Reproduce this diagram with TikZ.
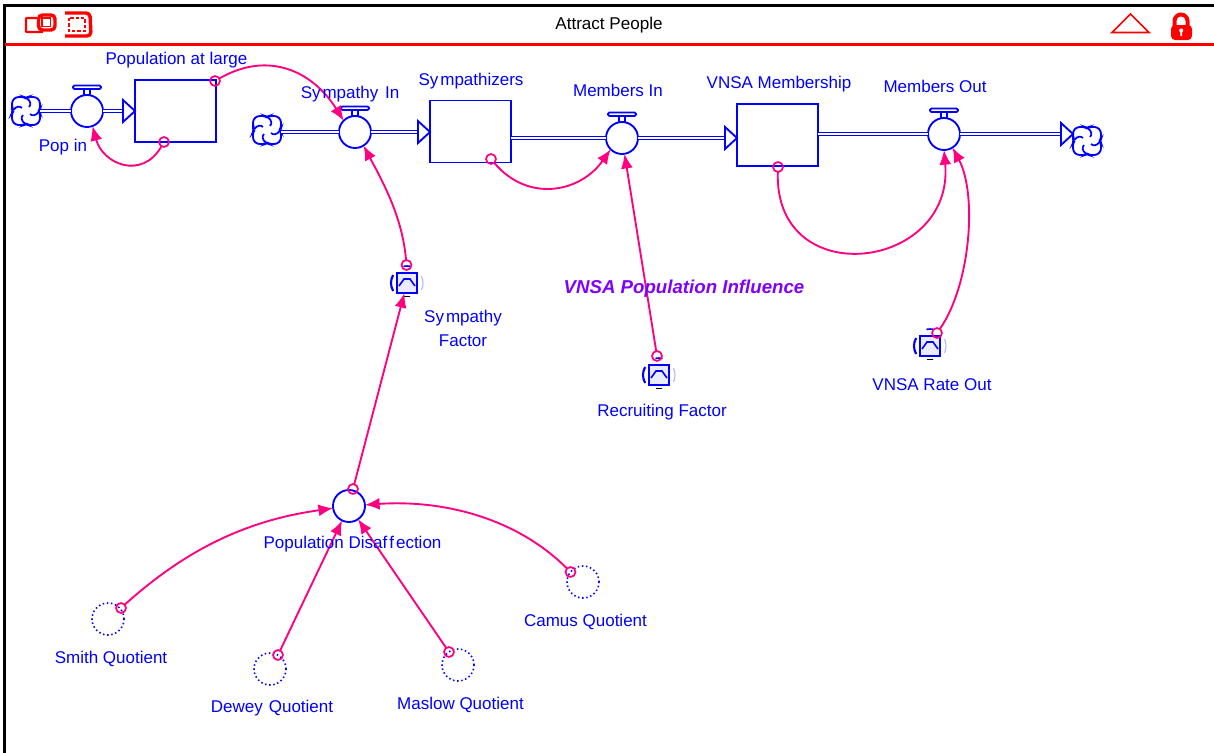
\documentclass[tikz,border=0pt]{standalone}
\usepackage{fontspec}
\setmainfont{Liberation Sans}
\usetikzlibrary{arrows.meta,calc}
\definecolor{vblue}{RGB}{0,0,255}
\definecolor{link}{RGB}{255,0,128}
\definecolor{vred}{RGB}{255,0,0}
\definecolor{vpurple}{RGB}{128,0,255}
\tikzset{
  x=0.75pt,y=0.75pt,
  stockbox/.style={draw=vblue,line width=1.4pt,rectangle,minimum width=60.75pt,minimum height=46.5pt,inner sep=0pt,outer sep=0pt},
  valve/.style={draw=vblue,line width=1.4pt,circle,minimum size=24pt,inner sep=0pt,outer sep=0pt},
  aux/.style={valve},
  dotaux/.style={draw=vblue,circle,minimum size=24pt,inner sep=0pt,line width=1.2pt,dash pattern=on 1.1pt off 2pt},
  cloudhit/.style={circle,minimum size=21pt,inner sep=0pt,outer sep=0pt},
  gfhit/.style={draw=vblue,fill=vblue!8,line width=1.7pt,rectangle,minimum size=15pt,inner sep=0pt,outer sep=0pt},
  port/.style={draw=link,circle,line width=1.3pt,minimum size=7.5pt,inner sep=0pt,outer sep=0pt},
  lbl/.style={text=vblue,font=\fontsize{12.75pt}{18pt}\selectfont,inner sep=0pt,align=center},
  pipe/.style={draw=vblue,line width=.9pt,double=white,double distance=1.5pt},
  lnk/.style={draw=link,line width=1.4pt,-{Latex[length=11pt,width=9pt]}},
  pics/cloudshape/.style={code={
    \draw[vblue,line width=1.4pt,rounded corners=2pt]
      (-14,5) -- (-14,10) -- (-10,14) -- (-2,14) -- (0,12.5) -- (2,14) -- (10,14) -- (14,10) -- (14,2) -- (12.5,0)
      -- (14,-2) -- (14,-10) -- (10,-14) -- (2,-14) -- (0,-12.5) -- (-2,-14) -- (-10,-14) -- (-14,-10) -- (-14,-2) -- (-12.5,0) -- cycle;
    \foreach \r in {0,90,180,270}{
      \draw[vblue,line width=1.3pt,rotate=\r] (1,12.5) .. controls (5,10) and (5,6) .. (3,4);
    }
  }},
  pics/handle/.style={code={
    \draw[vblue,line width=1.3pt,rounded corners=1pt] (-14,0) rectangle (14,3.5);
    \draw[vblue,line width=1.3pt] (-3,0) -- (-3,-6) (3,0) -- (3,-6);
  }},
  pics/headtip/.style={code={
    \draw[vblue,line width=1.4pt,line join=miter,fill=white] (0,0) -- (-12,11) -- (-12,-11) -- cycle;
  }},
  pics/gfring/.style={code={
    \draw[vblue,line width=1.6pt] (150:16) arc (150:210:16);
    \draw[vblue,line width=1.2pt] (78:17) arc (78:102:17);
    \draw[vblue!30,line width=.8pt] (-25:16) arc (-25:25:16);
    \draw[vblue,line width=1.2pt] (-8,-3) -- (-3,4) -- (3,4) -- (8,-3);
    \draw[black,line width=.7pt] (-3,-13.5) .. controls (-1,-12) and (1,-15) .. (3,-13.5);
  }},
}
\begin{document}
\begin{tikzpicture}
\useasboundingbox (0,0) rectangle (1214,-753);
\fill[white] (0,0) rectangle (1214,-753);

% frame and header
\fill[black] (3,-4) rectangle (1214,-7);
\fill[black] (3,-4) rectangle (5.5,-753);
\fill[vred] (5,-43) rectangle (1214,-45.5);
% header icons
\draw[vred,line width=1.7pt,rounded corners=.6pt] (37,-18) -- (26,-18) -- (26,-32) -- (43,-32);
\draw[vred,line width=2.6pt,rounded corners=3pt] (38.5,-15) rectangle (55,-30);
\draw[vred,line width=1.2pt] (42,-18) rectangle (50.5,-26.5);
\draw[vred,line width=1.3pt,dash pattern=on 2.5pt off 1.5pt] (69,-18) rectangle (85,-31);
\draw[vred,line width=2.6pt,rounded corners=3pt] (65,-13) -- (90,-13) -- (91,-36) -- (65,-36);
\draw[vred,line width=1.3pt] (1112,-32.5) -- (1130.5,-14) -- (1149,-32.5) -- cycle;
\draw[vred,line width=3pt] (1174.5,-26) -- (1174.5,-21) arc (180:0:6.5) -- (1187.5,-26);
\fill[vred,rounded corners=3pt] (1171,-25) rectangle (1192,-40);
\fill[white] (1181.2,-30.5) circle (2) (1180.4,-30.5) rectangle (1182,-36);

\node[text=black,font=\fontsize{12.8pt}{15pt}\selectfont,inner sep=0pt] (title) at (609,-25.5) {Attract People};

% stocks
\node[stockbox] (popLarge) at (175.5,-111) {};
\node[stockbox] (symp) at (470.5,-131.5) {};
\node[stockbox] (memb) at (777.5,-135) {};

% valves
\node[valve] (popIn) at (87,-111) {};
\node[valve] (sympIn) at (355,-132) {};
\node[valve] (memIn) at (622,-138) {};
\node[valve] (memOut) at (944,-134) {};
\path (popIn.north) ++(0,6) pic {handle};
\path (sympIn.north) ++(0,6) pic {handle};
\path (memIn.north) ++(0,6) pic {handle};
\path (memOut.north) ++(0,6) pic {handle};

% clouds
\node[cloudhit] (cloudA) at (26,-111) {};
\node[cloudhit] (cloudB) at (267,-130) {};
\node[cloudhit] (cloudC) at (1087,-141) {};
\pic at (cloudA) {cloudshape};
\pic at (cloudB) {cloudshape};
\pic at (cloudC) {cloudshape};

% pipes
\draw[pipe] (cloudA.east) -- (popIn.west);
\draw[pipe,shorten >=8pt] (popIn.east) -- (popIn.east -| popLarge.west);
\pic at (popIn.east -| popLarge.west) {headtip};
\draw[pipe] (cloudB.east |- sympIn.west) -- (sympIn.west);
\draw[pipe,shorten >=8pt] (sympIn.east) -- (sympIn.east -| symp.west);
\pic at (sympIn.east -| symp.west) {headtip};
\draw[pipe] (symp.east |- memIn.west) -- (memIn.west);
\draw[pipe,shorten >=8pt] (memIn.east) -- (memIn.east -| memb.west);
\pic at (memIn.east -| memb.west) {headtip};
\draw[pipe] (memb.east |- memOut.west) -- (memOut.west);
\draw[pipe,shorten >=8pt] (memOut.east) -- (memOut.east -| cloudC.west);
\pic at (memOut.east -| cloudC.west) {headtip};

% auxiliaries and graphical functions
\node[aux] (dis) at (349,-506) {};
\node[dotaux] (smith) at (108,-619) {};
\node[dotaux] (dewey) at (270,-669) {};
\node[dotaux] (maslow) at (458,-665) {};
\node[dotaux] (camus) at (583,-582) {};
\node[gfhit] (sf) at (407,-283) {};
\node[gfhit] (rf) at (659,-375) {};
\node[gfhit] (vr) at (930,-346) {};
\pic at (sf) {gfring};
\pic at (rf) {gfring};
\pic at (vr) {gfring};

% ports
\node[port] (pA) at (164,-142) {};
\node[port] (pB) at (215,-81) {};
\node[port] (pC) at (491,-159) {};
\node[port] (pD) at (778,-167) {};
\node[port] (pE) at (937,-333) {};
\node[port] (pF) at (657,-356) {};
\node[port] (pG) at (406.5,-265) {};
\node[port] (pH) at (353,-489) {};
\node[port] (pI) at (121,-608) {};
\node[port] (pJ) at (278,-655) {};
\node[port] (pK) at (449,-652) {};
\node[port] (pL) at (570.5,-572) {};

% connectors
\draw[lnk] (pA) to[out=-120,in=-75,looseness=1.4] (popIn.-70);
\draw[lnk] (pB) to[out=30,in=122,looseness=1.12] (sympIn.135);
\draw[lnk] (pC) to[out=-50,in=-125,looseness=1.15] (memIn.-135);
\draw[lnk] (pD) to[out=-92,in=-85,looseness=1.85] (memOut.-90);
\draw[lnk] (pE) to[out=55,in=-62,looseness=.75] (memOut.-58);
\draw[lnk] (pF) -- (memIn);
\draw[lnk] (pG) to[out=95,in=-62,looseness=.9] (sympIn.-58);
\draw[lnk] (pH) -- (sf);
\draw[lnk] (pI) to[out=42,in=188,looseness=.95] (dis);
\draw[lnk] (pJ) -- (dis);
\draw[lnk] (pK) -- (dis);
\draw[lnk] (pL) to[out=135,in=4,looseness=.9] (dis);

% labels
\node[lbl] (tA) at (176.5,-60.5) {Population at large};
\node[lbl] (tB) at (63,-147.5) {Pop in};
\node[lbl] (tC) at (350,-94.5) {Sy\kern1.5pt mpathy\kern1.5pt\ In};
\node[lbl] (tD) at (471,-81.5) {Sy\kern1.5pt mpathizers};
\node[lbl] (tE) at (618,-90.5) {Members In};
\node[lbl] (tF) at (779,-84.5) {VNSA Membership};
\node[lbl] (tG) at (935,-86.5) {Members Out};
\node[lbl] (tH) at (463,-328) {Sy\kern1.5pt mpathy\\Factor};
\node[lbl] (tI) at (662,-412.5) {Recruiting Factor};
\node[lbl] (tJ) at (932,-384.5) {VNSA Rate Out};
\node[lbl] (tK) at (352.5,-544.5) {Population Disaf\kern1.5pt f\kern1.5pt ection};
\node[lbl] (tL) at (111,-658.5) {Smith Quotient};
\node[lbl] (tM) at (272,-708.5) {Dewey\kern1pt\ Quotient};
\node[lbl] (tN) at (460.5,-704.5) {Maslow Quotient};
\node[lbl] (tO) at (585.5,-621.5) {Camus Quotient};
\node[text=vpurple,font=\fontsize{14pt}{16pt}\selectfont\bfseries\itshape,inner sep=0pt] (tP) at (684,-289) {VNSA Population Influence};
\end{tikzpicture}
\end{document}
